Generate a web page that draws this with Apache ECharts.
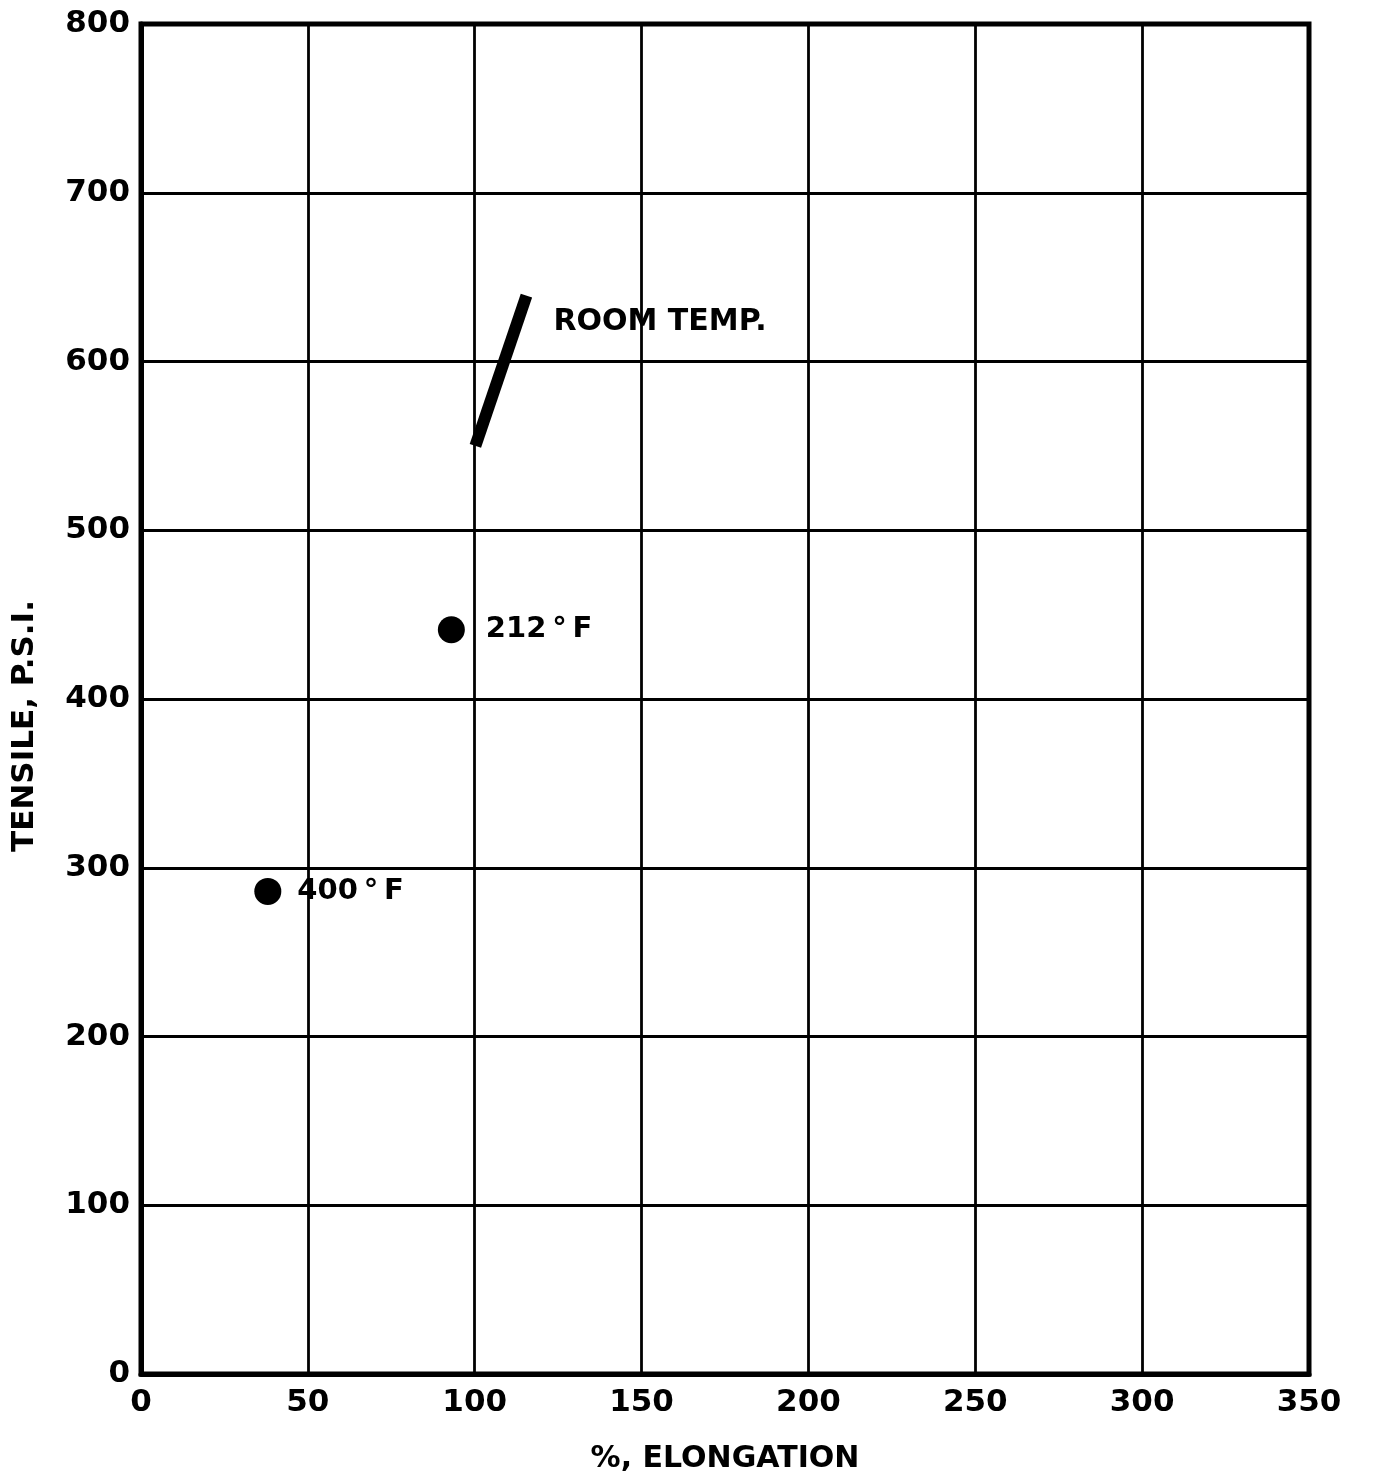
<!DOCTYPE html>
<html>
<head>
<meta charset="utf-8">
<script src="https://cdn.jsdelivr.net/npm/echarts@6/dist/echarts.min.js"></script>
<style>
  html, body { margin: 0; padding: 0; background: #fff; }
  #chart { width: 1374px; height: 1473px; }
</style>
</head>
<body>
<div id="chart"></div>
<script>
// Tensile strength vs. elongation at three test temperatures
const xTicks = [0, 50, 100, 150, 200, 250, 300, 350];
const yTicks = [0, 100, 200, 300, 400, 500, 600, 700, 800];

// Room temperature: range of results drawn as a heavy bar
const roomTemp = [[100.2, 550], [115.5, 639]];
// Elevated temperatures: single results
const at212F = [[93, 441]];
const at400F = [[38, 286]];

const labelRoom = 'ROOM TEMP.';
const label212 = '212\u2009°\u2009F';
const label400 = '400\u2009°\u2009F';
const xTitle = '%, ELONGATION';
const yTitle = 'TENSILE, P.S.I.';

const FONT = '"DejaVu Sans", sans-serif';
const ink = '#000';

const chart = echarts.init(document.getElementById('chart'), null, { renderer: 'canvas' });

const pointLabel = (text, gap) => ({
  show: true,
  position: 'right',
  distance: gap,
  formatter: text,
  color: ink,
  fontFamily: FONT,
  fontWeight: 'bold',
  fontSize: 29
});

chart.setOption({
  backgroundColor: '#fff',
  animation: false,
  grid: {
    left: 141, right: 65, top: 24, bottom: 99,
    containLabel: false,
    outerBoundsMode: 'none',
    show: true, borderColor: ink, borderWidth: 5
  },
  // vertical axis title, set a little below the middle of the axis
  graphic: [{
    type: 'text',
    x: 25, y: 726,
    rotation: Math.PI / 2,
    style: {
      text: yTitle,
      fill: ink,
      font: 'bold 31px ' + FONT,
      textAlign: 'center',
      textVerticalAlign: 'middle'
    }
  }],
  xAxis: {
    type: 'value',
    min: xTicks[0], max: xTicks[xTicks.length - 1], interval: 50,
    name: xTitle,
    nameLocation: 'middle',
    nameGap: 70,
    nameTextStyle: { color: ink, fontFamily: FONT, fontWeight: 'bold', fontSize: 30 },
    axisLine: { show: true, lineStyle: { color: ink, width: 5 } },
    axisTick: { show: false },
    axisLabel: { color: ink, fontFamily: FONT, fontWeight: 'bold', fontSize: 31, margin: 13 },
    splitLine: { show: true, lineStyle: { color: ink, width: 2.8 } }
  },
  yAxis: {
    type: 'value',
    min: yTicks[0], max: yTicks[yTicks.length - 1], interval: 100,
    axisLine: { show: true, lineStyle: { color: ink, width: 5 } },
    axisTick: { show: false },
    axisLabel: { color: ink, fontFamily: FONT, fontWeight: 'bold', fontSize: 31, margin: 11 },
    splitLine: { show: true, lineStyle: { color: ink, width: 2.8 } }
  },
  series: [
    {
      name: labelRoom,
      type: 'line',
      data: roomTemp,
      showSymbol: false,
      symbol: 'none',
      lineStyle: { color: ink, width: 12, cap: 'butt', opacity: 1 },
      endLabel: {
        show: true,
        formatter: labelRoom,
        distance: 0,
        offset: [27, 27],
        color: ink,
        fontFamily: FONT,
        fontWeight: 'bold',
        fontSize: 30
      },
      z: 5
    },
    {
      name: label212,
      type: 'scatter',
      data: at212F,
      symbol: 'circle',
      symbolSize: 27,
      itemStyle: { color: ink, opacity: 1 },
      label: pointLabel(label212, 21),
      z: 5
    },
    {
      name: label400,
      type: 'scatter',
      data: at400F,
      symbol: 'circle',
      symbolSize: 27,
      itemStyle: { color: ink, opacity: 1 },
      label: pointLabel(label400, 16),
      z: 5
    }
  ]
});
</script>
</body>
</html>
